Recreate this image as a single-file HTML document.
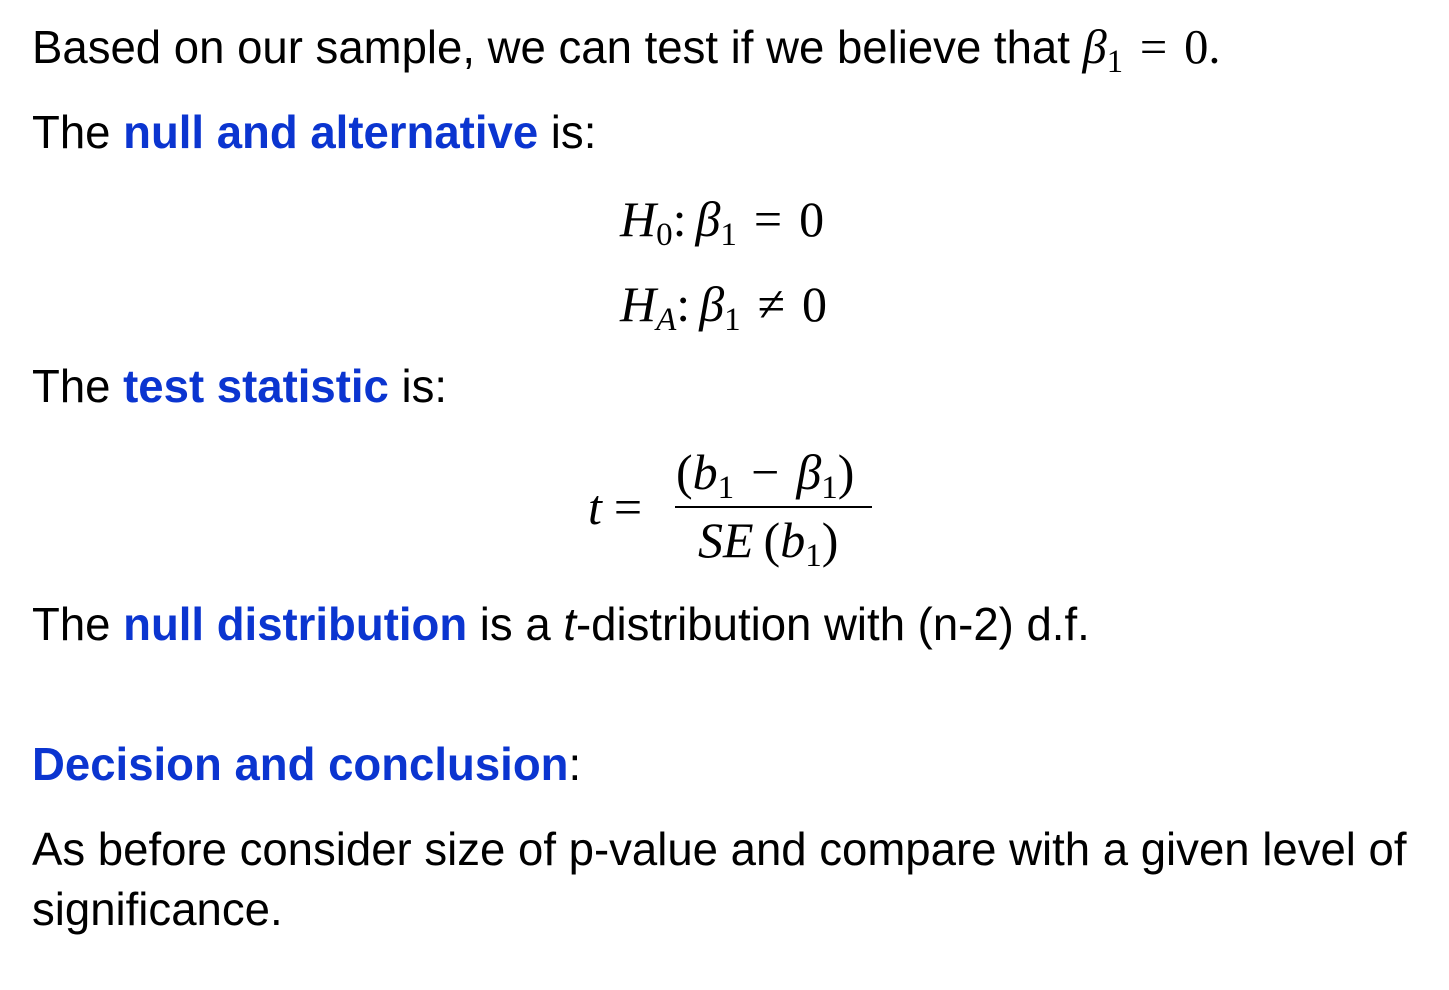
<!DOCTYPE html>
<html><head><meta charset="utf-8"><style>
body{margin:0;width:1449px;height:990px;background:#fff;position:relative;overflow:hidden;font-family:"Liberation Sans",sans-serif;color:#000}
.t{position:absolute;left:32px;font-size:46px;line-height:46px;white-space:nowrap;transform:scaleX(0.99);transform-origin:0 0}
.b{color:#0b35d0;font-weight:bold}
.m{position:absolute;font-family:"Liberation Serif",serif;font-size:50px;line-height:46px;white-space:nowrap}
i{font-style:italic}
sub{font-size:33px;vertical-align:-9px;line-height:0;font-style:normal}
.o{margin:0 17px}
.c{margin-right:9px}
.bar{position:absolute;left:675px;top:506px;width:197px;height:2px;background:#000}
</style></head><body>
<div class="t" style="top:24px">Based on our sample, we can test if we believe that <span style="font-family:'Liberation Serif',serif;font-size:49px"><i>β</i><sub>1</sub><span class="o">=</span>0.</span></div>
<div class="t" style="top:109px">The <span class="b">null and alternative</span> is:</div>
<div class="m" style="left:620px;top:196px"><i>H</i><sub>0</sub><span class="c">:</span><i>β</i><sub>1</sub><span class="o">=</span>0</div>
<div class="m" style="left:620px;top:281px"><i>H<sub style="font-style:italic">A</sub></i><span class="c">:</span><i>β</i><sub>1</sub><span class="o">≠</span>0</div>
<div class="t" style="top:363px">The <span class="b">test statistic</span> is:</div>
<div class="m" style="left:588px;top:484px"><i>t</i><span class="o" style="margin:0 12px">=</span></div>
<div class="m" style="left:676px;top:449px">(<i>b</i><sub>1</sub><span class="o">−</span><i>β</i><sub>1</sub>)</div>
<div class="bar"></div>
<div class="m" style="left:698px;top:517px"><i>SE</i>&thinsp;(<i>b</i><sub>1</sub>)</div>
<div class="t" style="top:601px">The <span class="b">null distribution</span> is a <i>t</i>-distribution with (n-2) d.f.</div>
<div class="t" style="top:741px"><span class="b">Decision and conclusion</span>:</div>
<div class="t" style="top:826px">As before consider size of p-value and compare with a given level of</div>
<div class="t" style="top:886px">significance.</div>
</body></html>
